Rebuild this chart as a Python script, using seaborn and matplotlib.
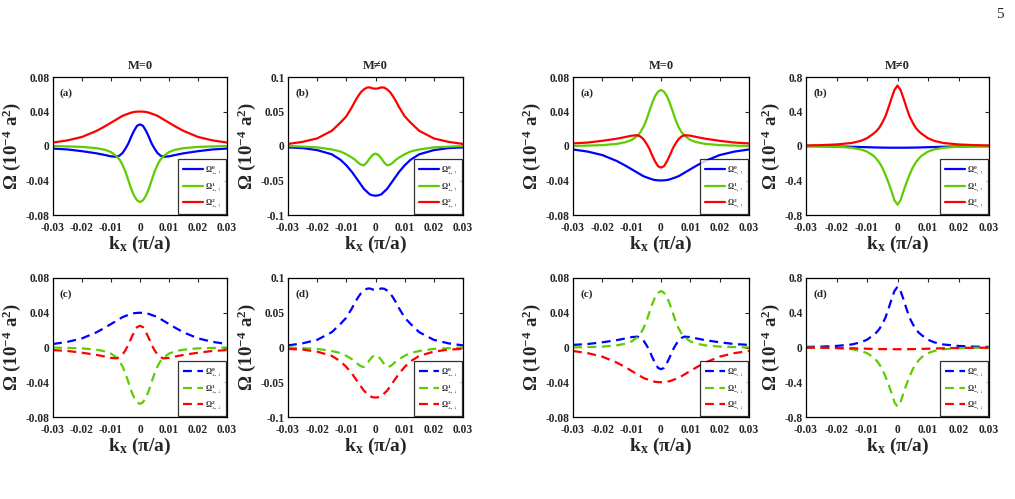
import numpy as np
import pandas as pd
import matplotlib
matplotlib.use("Agg")
import matplotlib.pyplot as plt
import seaborn as sns

sns.set_style("white")
plt.rcParams['font.family'] = ['Liberation Serif', 'DejaVu Serif']
plt.rcParams['mathtext.fontset'] = 'custom'
plt.rcParams['mathtext.rm'] = 'Liberation Serif:bold'
plt.rcParams['mathtext.it'] = 'Liberation Serif:italic:bold'
plt.rcParams['mathtext.bf'] = 'Liberation Serif:bold'

# ---------------- data ----------------
kx = [-0.030, -0.025, -0.020, -0.015, -0.012, -0.010, -0.008, -0.007, -0.006, -0.005,
      -0.004, -0.003, -0.002, -0.001, 0.0, 0.001, 0.002, 0.003, 0.004, 0.005,
      0.006, 0.007, 0.008, 0.010, 0.012, 0.015, 0.020, 0.025, 0.030]

# left group, M=0, spin up (a)
omega0_up_m0 = [-0.003, -0.004, -0.006, -0.0085, -0.0105, -0.012, -0.0125, -0.011, -0.008, -0.003,
                0.003, 0.011, 0.018, 0.0235, 0.025, 0.0235, 0.018, 0.011, 0.003, -0.003,
                -0.008, -0.011, -0.0125, -0.012, -0.0105, -0.0085, -0.006, -0.004, -0.003]
omega1_up_m0 = [0.0, -0.0005, -0.001, -0.0025, -0.0045, -0.007, -0.012, -0.016, -0.022, -0.030,
                -0.040, -0.050, -0.058, -0.063, -0.065, -0.063, -0.058, -0.050, -0.040, -0.030,
                -0.022, -0.016, -0.012, -0.007, -0.0045, -0.0025, -0.001, -0.0005, 0.0]
omega2_up_m0 = [0.004, 0.0065, 0.0105, 0.0175, 0.023, 0.027, 0.031, 0.033, 0.035, 0.0363,
                0.0375, 0.0387, 0.0395, 0.0398, 0.040, 0.0398, 0.0395, 0.0387, 0.0375, 0.0363,
                0.035, 0.033, 0.031, 0.027, 0.023, 0.0175, 0.0105, 0.0065, 0.004]

# left group, M!=0, spin up (b)
omega0_up_m1 = [-0.002, -0.003, -0.006, -0.012, -0.020, -0.028, -0.038, -0.044, -0.050, -0.056,
                -0.062, -0.066, -0.070, -0.0715, -0.072, -0.0715, -0.070, -0.066, -0.062, -0.056,
                -0.050, -0.044, -0.038, -0.028, -0.020, -0.012, -0.006, -0.003, -0.002]
omega1_up_m1 = [0.0, -0.001, -0.002, -0.005, -0.008, -0.012, -0.017, -0.020, -0.024, -0.027,
                -0.028, -0.024, -0.018, -0.013, -0.011, -0.013, -0.018, -0.024, -0.028, -0.027,
                -0.024, -0.020, -0.017, -0.012, -0.008, -0.005, -0.002, -0.001, 0.0]
omega2_up_m1 = [0.003, 0.006, 0.011, 0.022, 0.034, 0.043, 0.057, 0.065, 0.072, 0.078,
                0.082, 0.0845, 0.085, 0.0835, 0.083, 0.0835, 0.085, 0.0845, 0.082, 0.078,
                0.072, 0.065, 0.057, 0.043, 0.034, 0.022, 0.011, 0.006, 0.003]

# right group, M=0, spin up (a)
omega0m_up_m0 = [-0.004, -0.0065, -0.0105, -0.0175, -0.023, -0.027, -0.031, -0.033, -0.035, -0.0363,
                 -0.0375, -0.0387, -0.0395, -0.0398, -0.040, -0.0398, -0.0395, -0.0387, -0.0375, -0.0363,
                 -0.035, -0.033, -0.031, -0.027, -0.023, -0.0175, -0.0105, -0.0065, -0.004]
omega1m_up_m0 = [0.0, 0.0005, 0.001, 0.0025, 0.0045, 0.007, 0.012, 0.016, 0.022, 0.030,
                 0.040, 0.050, 0.058, 0.063, 0.065, 0.063, 0.058, 0.050, 0.040, 0.030,
                 0.022, 0.016, 0.012, 0.007, 0.0045, 0.0025, 0.001, 0.0005, 0.0]
omega2m_up_m0 = [0.003, 0.004, 0.006, 0.0085, 0.0105, 0.012, 0.0125, 0.011, 0.008, 0.003,
                 -0.003, -0.011, -0.018, -0.0235, -0.025, -0.0235, -0.018, -0.011, -0.003, 0.003,
                 0.008, 0.011, 0.0125, 0.012, 0.0105, 0.0085, 0.006, 0.004, 0.003]

# right group, M!=0, spin up (b)
omega0m_up_m1 = [-0.002, -0.003, -0.005, -0.009, -0.012, -0.014, -0.016, -0.017, -0.018, -0.0185,
                 -0.019, -0.0195, -0.020, -0.020, -0.020, -0.020, -0.020, -0.0195, -0.019, -0.0185,
                 -0.018, -0.017, -0.016, -0.014, -0.012, -0.009, -0.005, -0.003, -0.002]
omega1m_up_m1 = [-0.002, -0.004, -0.008, -0.020, -0.040, -0.065, -0.11, -0.145, -0.19, -0.25,
                 -0.33, -0.42, -0.52, -0.63, -0.68, -0.63, -0.52, -0.42, -0.33, -0.25,
                 -0.19, -0.145, -0.11, -0.065, -0.040, -0.020, -0.008, -0.004, -0.002]
omega2m_up_m1 = [0.007, 0.010, 0.018, 0.035, 0.060, 0.090, 0.14, 0.17, 0.21, 0.27,
                 0.34, 0.44, 0.55, 0.65, 0.70, 0.65, 0.55, 0.44, 0.34, 0.27,
                 0.21, 0.17, 0.14, 0.090, 0.060, 0.035, 0.018, 0.010, 0.007]

xticks = [-0.03, -0.02, -0.01, 0, 0.01, 0.02, 0.03]
xticklabels = ["-0.03", "-0.02", "-0.01", "0", "0.01", "0.02", "0.03"]
yticks_a = [-0.08, -0.04, 0, 0.04, 0.08]
yticklabels_a = ["-0.08", "-0.04", "0", "0.04", "0.08"]
yticks_b = [-0.1, -0.05, 0, 0.05, 0.1]
yticklabels_b = ["-0.1", "-0.05", "0", "0.05", "0.1"]
yticks_rb = [-0.8, -0.4, 0, 0.4, 0.8]
yticklabels_rb = ["-0.8", "-0.4", "0", "0.4", "0.8"]

BLUE, GREEN, RED = '#0000ff', '#5ecc00', '#ff0000'

W, H = 1015, 499
fig = plt.figure(figsize=(W / 100, H / 100), dpi=100)

cols = [(53, 227), (288, 463), (573, 749), (806, 989)]
rows = [(77, 215), (278, 417)]


def make_ax(c, r):
    x0, x1 = cols[c]
    y0, y1 = rows[r]
    return fig.add_axes([x0 / W, 1 - y1 / H, (x1 - x0) / W, (y1 - y0) / H])


panels = [
    (0, 0, '(a)', [omega0_up_m0, omega1_up_m0, omega2_up_m0], '+', r'\uparrow', '-', (yticks_a, yticklabels_a), 'M=0'),
    (1, 0, '(b)', [omega0_up_m1, omega1_up_m1, omega2_up_m1], '+', r'\uparrow', '-', (yticks_b, yticklabels_b), 'M≠0'),
    (2, 0, '(a)', [omega0m_up_m0, omega1m_up_m0, omega2m_up_m0], '-', r'\uparrow', '-', (yticks_a, yticklabels_a), 'M=0'),
    (3, 0, '(b)', [omega0m_up_m1, omega1m_up_m1, omega2m_up_m1], '-', r'\uparrow', '-', (yticks_rb, yticklabels_rb), 'M≠0'),
    (0, 1, '(c)', [omega2_up_m0, omega1_up_m0, omega0_up_m0], '+', r'\downarrow', '--', (yticks_a, yticklabels_a), None),
    (1, 1, '(d)', [omega2_up_m1, omega1_up_m1, omega0_up_m1], '+', r'\downarrow', '--', (yticks_b, yticklabels_b), None),
    (2, 1, '(c)', [omega2m_up_m0, omega1m_up_m0, omega0m_up_m0], '-', r'\downarrow', '--', (yticks_a, yticklabels_a), None),
    (3, 1, '(d)', [omega2m_up_m1, omega1m_up_m1, omega0m_up_m1], '-', r'\downarrow', '--', (yticks_rb, yticklabels_rb), None),
]

for c, r, lab, series, sign, spin, ls, (yt, ytl), title in panels:
    ax = make_ax(c, r)
    for i, (vals, col) in enumerate(zip(series, [BLUE, GREEN, RED])):
        df = pd.DataFrame({'kx': kx, 'omega': vals})
        label = r'$\Omega^{%d}_{%s,%s}$' % (i, sign, spin)
        sns.lineplot(data=df, x='kx', y='omega', ax=ax, color=col, lw=1.6,
                     linestyle=ls, label=label, sort=False)
        if ls == '--':
            ax.lines[-1].set_dashes([4, 2.5])
    ax.set_xlim(-0.03, 0.03)
    ax.set_ylim(yt[0], yt[-1])
    ax.set_xticks(xticks)
    ax.set_xticklabels(xticklabels)
    ax.set_yticks(yt)
    ax.set_yticklabels(ytl)
    ax.tick_params(direction='in', length=3, width=0.8, top=True, right=True,
                   labelsize=8.3)
    ax.tick_params(axis='x', pad=5)
    ax.tick_params(axis='y', pad=2.5)
    for t in ax.get_xticklabels() + ax.get_yticklabels():
        t.set_fontweight('bold')
    for s in ax.spines.values():
        s.set_color('black')
        s.set_linewidth(0.9)
    ax.set_xlabel(r'k$_\mathregular{x}$ (π/a)', fontsize=14, fontweight='bold', labelpad=0)
    ax.set_ylabel(r'Ω (10$^{-4}$ a$^{2}$)', fontsize=13.5, fontweight='bold', labelpad=2)
    ax.text(0.04, 0.88, lab, transform=ax.transAxes, fontsize=8, fontweight='bold',
            ha='left', va='center')
    if title:
        ax.set_title(title, fontsize=9, fontweight='bold', pad=6)
    leg = ax.legend(loc='lower right', fontsize=5.5, frameon=True, fancybox=False,
                    edgecolor='black', handlelength=2.6, borderaxespad=0.15,
                    labelspacing=0.6, borderpad=0.6, handletextpad=0.3)
    leg.get_frame().set_linewidth(0.9)

fig.text(1000 / W, 1 - 14 / H, '5', fontsize=11, ha='center', va='center')

fig.savefig('out.png', dpi=100, facecolor='white')
